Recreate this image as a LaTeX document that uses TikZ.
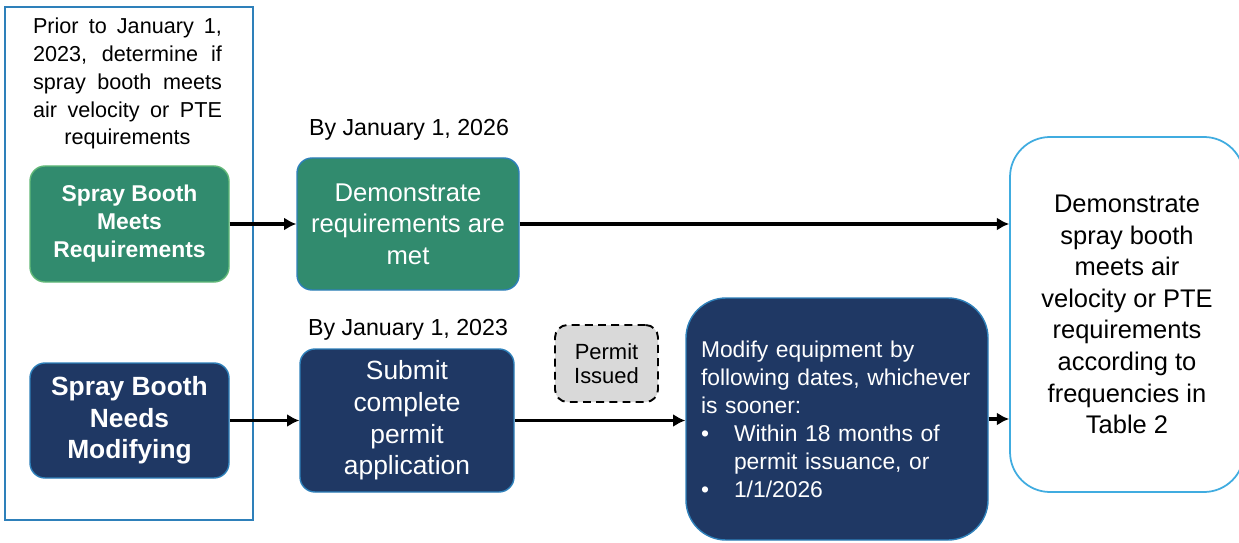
\documentclass[tikz,border=0pt]{standalone}
\usepackage{fontspec}
\setmainfont{Liberation Sans}
\usepackage{tikz}
\usetikzlibrary{positioning,arrows.meta}

\definecolor{boothGreen}{RGB}{49,139,110}
\definecolor{boothNavy}{RGB}{31,56,100}
\definecolor{edgeBlue}{RGB}{46,128,186}
\definecolor{edgeGreen}{RGB}{98,184,120}
\definecolor{edgeSky}{RGB}{64,172,224}
\definecolor{permitGrey}{RGB}{217,217,217}

\begin{document}
\begin{tikzpicture}[
    greenbox/.style={draw=edgeBlue, fill=boothGreen, text=white, rounded corners=0.3cm, line width=0.8pt, align=center},
    navybox/.style={draw=edgeBlue, fill=boothNavy, text=white, rounded corners=0.3cm, line width=0.8pt, align=center},
    flow/.style={-{Latex[length=7pt,width=7.5pt]}, line width=2.2pt},
    datelabel/.style={font=\fontsize{13.2}{16}\selectfont}
]
    \useasboundingbox (0,0) rectangle (24.78,-10.86);

    %Left frame
    \node[draw=edgeBlue, line width=1pt, minimum width=4.96cm, minimum height=10.26cm] (window) at (2.58,-5.27) {};
    \node[font=\fontsize{12.3}{15.9}\selectfont, text width=3.78cm, align=justify, inner sep=0pt] (prior) at (2.55,-1.67)
       {{\parfillskip=0pt Prior to January 1,\linebreak 2023, determine if\linebreak spray booth meets\linebreak air velocity or PTE\par}\centering requirements\par};

    \node[greenbox, draw=edgeGreen, minimum width=3.98cm, minimum height=2.32cm,
          font=\fontsize{13}{15.9}\selectfont\bfseries] (meets) at (2.59,-4.48)
       {Spray Booth\\Meets\\Requirements};
    \node[navybox, minimum width=3.98cm, minimum height=2.30cm,
          font=\fontsize{15}{18}\selectfont\bfseries] (needs) at (2.59,-8.41)
       {Spray Booth\\Needs\\Modifying};

    %Middle column
    \node[datelabel] (date2026) at (8.18,-2.60) {By January 1, 2026};
    \node[greenbox, minimum width=4.44cm, minimum height=2.64cm,
          font=\fontsize{14.6}{18}\selectfont] (demo) at (8.16,-4.48)
       {Demonstrate\\requirements are\\met};

    \node[datelabel] (date2023) at (8.16,-6.60) {By January 1, 2023};
    \node[navybox, minimum width=4.28cm, minimum height=2.86cm,
          font=\fontsize{15}{18}\selectfont] (submit) at (8.14,-8.41)
       {Submit\\complete\\permit\\application};

    \node[draw, dash pattern=on 4.5pt off 3pt, line width=1.1pt, fill=permitGrey, rounded corners=0.25cm,
          minimum width=2.06cm, minimum height=1.54cm, align=center,
          font=\fontsize{12.5}{13.6}\selectfont] (permit) at (12.13,-7.27)
       {Permit\\Issued};

    \node[navybox, rounded corners=0.8cm, align=left, text width=5.44cm, inner xsep=0.3cm,
          minimum height=4.84cm, font=\fontsize{13}{15.9}\selectfont] (modify) at (16.74,-8.38)
       {Modify equipment by\\
        following dates, whichever\\
        is sooner:\\
        \makebox[0.66cm][l]{\textbullet}Within 18 months of\\
        \hspace*{0.66cm}permit issuance, or\\
        \makebox[0.66cm][l]{\textbullet}1/1/2026};

    %Right box
    \node[draw=edgeSky, line width=1pt, fill=white, rounded corners=0.8cm, align=center,
          minimum width=4.68cm, minimum height=7.10cm,
          font=\fontsize{14.5}{18}\selectfont] (finish) at (22.54,-6.29)
       {Demonstrate\\spray booth\\meets air\\velocity or PTE\\requirements\\according to\\frequencies in\\Table 2};

    %Arrows
    \draw[flow] (meets.east) -- (meets.east -| demo.west);
    \draw[flow] (demo.east) -- (demo.east -| finish.west);
    \draw[flow] (needs.east) -- (needs.east -| submit.west);
    \draw[flow] (submit.east) -- (submit.east -| modify.west);
    \draw[flow] (modify.east) -- (modify.east -| finish.west);
\end{tikzpicture}
\end{document}
